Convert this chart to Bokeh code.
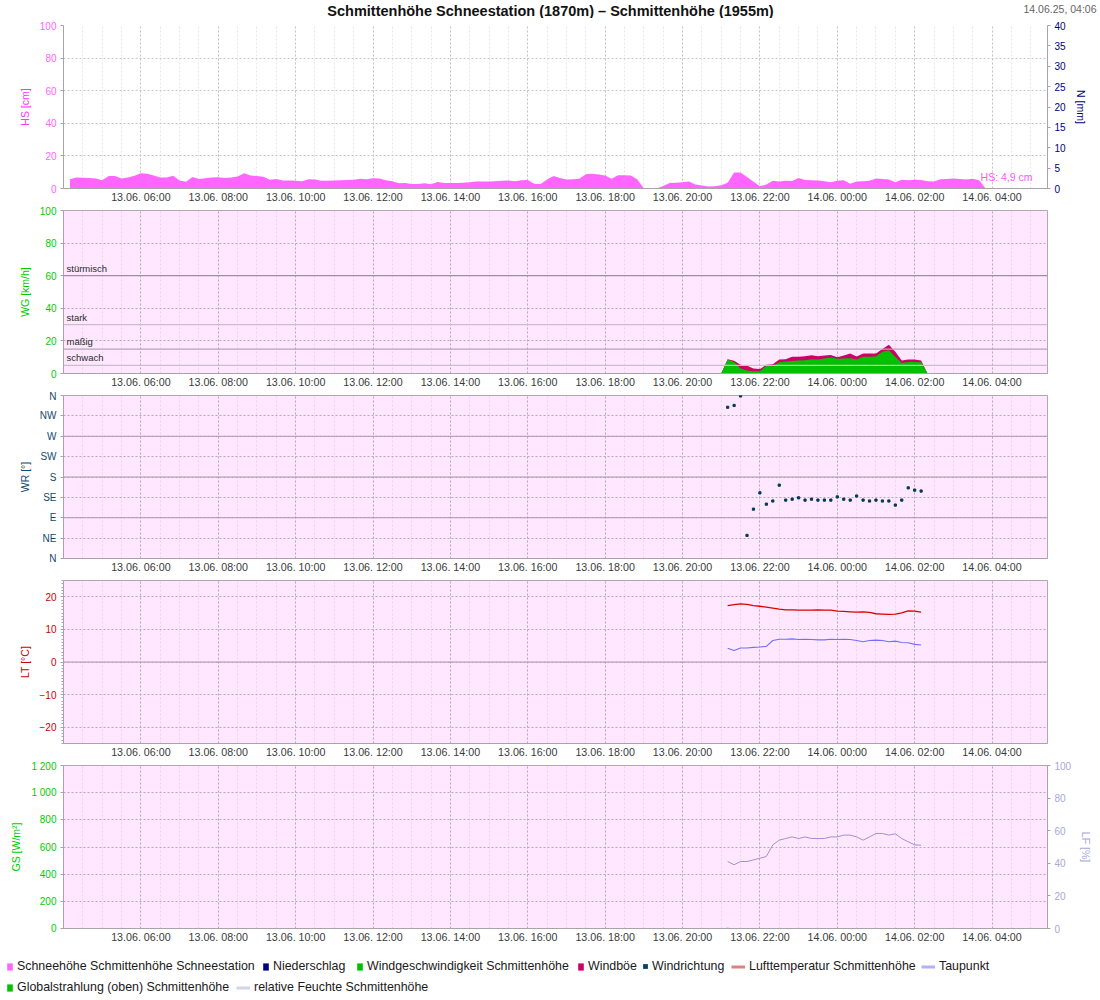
import pandas as pd
from bokeh.plotting import figure
from bokeh.layouts import column
from bokeh.models import (Range1d, LinearAxis, FixedTicker, DatetimeTickFormatter,
                          Span, Label, Legend, LegendItem)
from bokeh.embed import file_html
from bokeh.resources import INLINE

FONT = "Liberation Sans"

# ---------------- texts ----------------
chart_title = "Schmittenhöhe Schneestation (1870m) – Schmittenhöhe (1955m)"
timestamp_text = "14.06.25, 04:06"
hs_current = "HS: 4,9 cm"

# ---------------- time axis ----------------
view_start = "2025-06-13 04:00"
view_end = "2025-06-14 05:26"
major_tick_times = pd.date_range("2025-06-13 06:00", "2025-06-14 04:00", freq="2h")
minor_tick_times = pd.date_range("2025-06-13 04:00", "2025-06-14 05:30", freq="30min")

# ---------------- data (10-minute values) ----------------
snow_start = "2025-06-13 04:10"
snow_cm = [
    5.7, 6.7, 6.6, 6.4, 6.2,
    5.1, 7.6, 7.6, 6.1, 6.8, 7.8,
    9.4, 9.0, 7.9, 6.7, 6.7, 7.8,
    4.9, 4.2, 7.0, 5.9, 6.3, 6.8,
    6.9, 6.5, 6.8, 7.4, 9.3, 8.0,
    7.6, 7.2, 5.3, 5.8, 4.9, 4.9,
    4.8, 4.5, 5.7, 5.5, 4.7, 4.8,
    4.9, 5.0, 5.2, 5.3, 6.0, 5.7,
    6.3, 6.1, 5.0, 4.4, 3.2, 3.3,
    2.7, 2.8, 3.2, 2.6, 4.0, 3.3,
    3.3, 3.4, 3.5, 3.9, 4.3, 4.3,
    4.3, 4.5, 4.7, 4.9, 4.5, 5.1,
    5.2, 2.9, 2.7, 5.5, 7.6, 6.5,
    5.5, 5.6, 6.0, 8.8, 9.0, 8.6,
    8.0, 6.0, 8.2, 8.1, 8.0, 5.5,
    0.0, 0.0, 0.0, 1.5, 3.3, 3.6,
    3.8, 4.3, 2.5, 1.9, 1.3, 1.4,
    2.0, 3.6, 9.8, 9.8, 7.0, 4.1,
    1.4, 2.5, 4.7, 4.3, 4.7, 4.6,
    6.5, 5.2, 5.1, 4.9, 4.4, 3.9,
    4.7, 5.0, 2.9, 4.3, 4.4, 4.8,
    6.1, 5.9, 5.5, 3.9, 5.3, 5.1,
    5.4, 5.2, 4.4, 4.3, 5.6, 5.8,
    6.1, 5.9, 5.5, 6.0, 5.1, 0.0,
]

wind_start = "2025-06-13 21:00"
wind_kmh = [0.0, 8.6, 7.1, 3.1, 1.8, 1.4, 1.4, 4.7, 4.5, 6.9, 7.3, 7.6, 7.9, 8.2, 8.8, 8.6, 9.2,
            9.8, 9.0, 9.2, 9.4, 8.6, 10.2, 10.3, 10.4, 13.3, 14.3, 10.2, 6.5, 7.1, 7.0, 6.9, 0.0]
gust_kmh = [0.0, 8.8, 7.8, 5.3, 4.7, 3.1, 2.7, 5.3, 5.7, 8.6, 8.8, 10.2, 10.2, 10.6, 11.2, 10.6, 11.0,
            11.4, 10.0, 11.0, 12.2, 10.4, 12.2, 12.2, 12.2, 15.1, 17.6, 13.3, 8.0, 8.6, 8.6, 8.0, 0.0]

meas_start = "2025-06-13 21:10"
wind_dir_deg = [334, 338, 359, 51, 109, 145, 120, 127, 162, 129, 131, 134, 129, 131, 129, 129,
                129, 136, 131, 129, 138, 129, 127, 129, 127, 127, 118, 129, 156, 151, 149]
air_temp_c = [17.3, 17.6, 17.8, 17.7, 17.3, 17.1, 16.8, 16.5, 16.2, 16.0, 16.0, 15.9, 15.9, 15.9,
              16.0, 15.9, 15.9, 15.6, 15.5, 15.4, 15.3, 15.4, 15.2, 14.8, 14.7, 14.6, 14.7, 15.1,
              15.7, 15.6, 15.3]
dew_point_c = [4.2, 3.5, 4.3, 4.3, 4.5, 4.6, 4.8, 6.6, 7.0, 7.0, 7.1, 6.9, 7.0, 6.9, 6.8, 6.8,
               7.0, 6.9, 7.0, 6.9, 6.6, 6.2, 6.6, 6.7, 6.6, 6.2, 6.4, 6.0, 5.9, 5.4, 5.2]
rel_hum_pct = [41.1, 39.1, 41.1, 41.1, 42.1, 43.1, 44.2, 51.3, 54.2, 55.2, 56.2, 55.2, 56.2, 55.2,
               55.2, 55.2, 56.2, 56.2, 57.3, 57.3, 56.2, 54.2, 56.2, 58.3, 58.3, 57.3, 58.1, 55.2,
               53.2, 51.3, 51.1]

rad_start = "2025-06-13 21:00"
global_rad_wm2 = [0, 6, 0]

# ---------------- axis ticks / labels ----------------
hs_ticks = [0, 20, 40, 60, 80, 100]
n_ticks = [0, 5, 10, 15, 20, 25, 30, 35, 40]
wg_ticks = [0, 20, 40, 60, 80, 100]
wind_levels = [60, 30, 15, 5]
wind_level_names = ["stürmisch", "stark", "mäßig", "schwach"]
wind_level_colors = ["#9a8f9a", "#cdbccd", "#b3a6b3", "#cdbccd"]
wr_ticks = [0, 45, 90, 135, 180, 225, 270, 315, 360]
wr_labels = ["N", "NE", "E", "SE", "S", "SW", "W", "NW", "N"]
wr_solid = [90, 180, 270]
lt_ticks = [-20, -10, 0, 10, 20]
lt_minor = list(range(-25, 26))
gs_ticks = [0, 200, 400, 600, 800, 1000, 1200]
gs_labels = ["0", "200", "400", "600", "800", "1 000", "1 200"]
lf_ticks = [0, 20, 40, 60, 80, 100]

legend_names = ["Schneehöhe Schmittenhöhe Schneestation", "Niederschlag",
                "Windgeschwindigkeit Schmittenhöhe", "Windböe", "Windrichtung",
                "Lufttemperatur Schmittenhöhe", "Taupunkt",
                "Globalstrahlung (oben) Schmittenhöhe", "relative Feuchte Schmittenhöhe"]
legend_colors = ["#ff66ff", "#000080", "#00c000", "#cc0066", "#004466",
                 "#e08080", "#b0b0ff", "#00c000", "#d4d4ea"]
legend_kinds = ["area", "area", "area", "area", "dot", "line", "line", "area", "line"]

# ---------------- helpers ----------------
def ms(s):
    return pd.Timestamp(s).timestamp() * 1000.0


def series_times(start, n):
    return pd.date_range(start, periods=n, freq="10min")


X0, X1 = ms(view_start), ms(view_end)
xr = Range1d(X0, X1)
PINK = "#ffe8ff"
TICK_FMT = "%d.%m. %H:%M"
AXIS_GREY = "#aaa2aa"


def style_yaxis(ax, ticks, color, label, minor=None, overrides=None):
    ax.ticker = FixedTicker(ticks=ticks, minor_ticks=minor or [])
    ax.axis_label = label
    ax.axis_label_text_color = color
    ax.axis_label_text_font = FONT
    ax.axis_label_text_font_size = "10.5px"
    ax.axis_label_text_font_style = "normal"
    ax.axis_label_standoff = 6
    ax.major_label_text_color = color
    ax.major_label_text_font = FONT
    ax.major_label_text_font_size = "10px"
    ax.major_label_standoff = 4
    ax.major_tick_in = 0
    ax.major_tick_out = 3
    ax.minor_tick_in = 0
    ax.minor_tick_out = 2 if minor else 0
    ax.axis_line_color = AXIS_GREY
    ax.major_tick_line_color = AXIS_GREY
    ax.minor_tick_line_color = AXIS_GREY
    if overrides:
        ax.major_label_overrides = overrides


def make_fig(y0, y1, bg, top, grid_major, grid_minor, outline):
    p = figure(x_range=xr, y_range=Range1d(y0, y1), x_axis_type="datetime",
               frame_width=984, frame_height=163,
               min_border_left=63, min_border_right=45,
               min_border_top=top, min_border_bottom=17,
               background_fill_color=bg, border_fill_color="white",
               output_backend="svg", toolbar_location=None)
    p.outline_line_color = outline
    xa = p.xaxis[0]
    xa.ticker = FixedTicker(ticks=[ms(t) for t in major_tick_times],
                            minor_ticks=[ms(t) for t in minor_tick_times])
    fmt = {k: TICK_FMT for k in ["microseconds", "milliseconds", "seconds", "minsec",
                                  "minutes", "hourmin", "hours", "days", "months", "years"]}
    xa.formatter = DatetimeTickFormatter(**fmt)
    xa.major_label_text_font = FONT
    xa.major_label_text_font_size = "10.7px"
    xa.major_label_text_color = "#3a3a3a"
    xa.major_label_standoff = 2
    xa.major_tick_in = 0
    xa.major_tick_out = 0
    xa.minor_tick_in = 0
    xa.minor_tick_out = 0
    xa.axis_line_color = AXIS_GREY
    xa.major_tick_line_color = AXIS_GREY
    p.xgrid.grid_line_color = grid_major
    p.xgrid.grid_line_dash = "2 2"
    p.xgrid.minor_grid_line_color = grid_minor
    p.xgrid.minor_grid_line_dash = "2 2"
    p.ygrid.grid_line_color = grid_major
    p.ygrid.grid_line_dash = "2 2"
    return p


# ---------------- header strip: title + timestamp ----------------
ph = figure(x_range=Range1d(0, 1100), y_range=Range1d(0, 18), frame_width=1100, frame_height=18,
            min_border=0, x_axis_location=None, y_axis_location=None,
            output_backend="svg", toolbar_location=None, frame_align=False)
ph.outline_line_color = None
ph.grid.visible = False
ph.add_layout(Label(x=550, y=7.5, text=chart_title, text_align="center", text_baseline="middle",
                    text_color="#111111", text_font=FONT, text_font_size="14.5px",
                    text_font_style="bold"))
ph.add_layout(Label(x=1096, y=9.5, text=timestamp_text, text_align="right",
                    text_baseline="middle", text_color="#666666", text_font=FONT,
                    text_font_size="10.5px"))

# ---------------- panel 1: snow height ----------------
p1 = make_fig(0, 100, "white", 7, "#c4c4c4", "#e6e6e6", None)
p1.extra_y_ranges = {"n": Range1d(0, 40)}
style_yaxis(p1.yaxis[0], hs_ticks, "#ff66ff", "HS [cm]")
p1.yaxis[0].axis_label_text_color = "#ff33ff"
n_axis = LinearAxis(y_range_name="n")
style_yaxis(n_axis, n_ticks, "#000080", "N [mm]")
p1.add_layout(n_axis, "right")
p1.varea(x=series_times(snow_start, len(snow_cm)), y1=0, y2=snow_cm,
         fill_color="#ff66ff", fill_alpha=1.0)
p1.add_layout(Label(x=X1, y=0, x_offset=-15, y_offset=11.6, text=hs_current,
                    text_align="right", text_baseline="middle", text_color="#ff55ff",
                    text_font=FONT, text_font_size="10.5px"))

# ---------------- panel 2: wind speed ----------------
PG_MAJ, PG_MIN, PG_OUT = "#b9a9b9", "#ead4ea", "#b0a8b0"
p2 = make_fig(0, 100, PINK, 5, PG_MAJ, PG_MIN, PG_OUT)
style_yaxis(p2.yaxis[0], wg_ticks, "#00cc00", "WG [km/h]")
for lvl, name, col in zip(wind_levels, wind_level_names, wind_level_colors):
    p2.add_layout(Span(location=lvl, dimension="width", line_color=col, line_width=1.2))
    p2.add_layout(Label(x=X0, y=lvl, x_offset=3, y_offset=2, text=name,
                        text_align="left", text_baseline="bottom", text_color="#2a2a2a",
                        text_font=FONT, text_font_size="9.5px"))
wt = series_times(wind_start, len(wind_kmh))
p2.varea(x=wt, y1=0, y2=gust_kmh, fill_color="#cc0066")
p2.varea(x=wt, y1=0, y2=wind_kmh, fill_color="#00c000")

# ---------------- panel 3: wind direction ----------------
p3 = make_fig(0, 360, PINK, 5, PG_MAJ, PG_MIN, PG_OUT)
style_yaxis(p3.yaxis[0], wr_ticks, "#154a6a", "WR [°]",
            overrides={t: l for t, l in zip(wr_ticks, wr_labels)})
for lvl in wr_solid:
    p3.add_layout(Span(location=lvl, dimension="width", line_color="#a89ca8", line_width=1))
mt = series_times(meas_start, len(wind_dir_deg))
p3.scatter(x=mt, y=wind_dir_deg, marker="square", size=2.2, color="#003a55")

# ---------------- panel 4: temperature ----------------
p4 = make_fig(-25, 25, PINK, 5, PG_MAJ, PG_MIN, PG_OUT)
style_yaxis(p4.yaxis[0], lt_ticks, "#cc0000", "LT [°C]", minor=lt_minor)
p4.add_layout(Span(location=0, dimension="width", line_color="#a89ca8", line_width=1))
p4.line(x=mt, y=air_temp_c, line_color="#dd0000", line_width=1.3)
p4.line(x=mt, y=dew_point_c, line_color="#6f6fff", line_width=1.1)

# ---------------- panel 5: radiation / humidity ----------------
p5 = make_fig(0, 1200, PINK, 5, PG_MAJ, PG_MIN, PG_OUT)
style_yaxis(p5.yaxis[0], gs_ticks, "#00cc00", "GS [W/m²]",
            overrides={t: l for t, l in zip(gs_ticks, gs_labels)})
p5.extra_y_ranges = {"lf": Range1d(0, 100)}
lf_axis = LinearAxis(y_range_name="lf")
style_yaxis(lf_axis, lf_ticks, "#a8a8d8", "LF [%]")
p5.add_layout(lf_axis, "right")
p5.varea(x=series_times(rad_start, len(global_rad_wm2)), y1=0, y2=global_rad_wm2,
         fill_color="#00c000")
p5.line(x=mt, y=rel_hum_pct, y_range_name="lf", line_color="#9d90d4", line_width=1)

# ---------------- legend strip ----------------
pl = figure(x_range=Range1d(0, 1), y_range=Range1d(0, 1), frame_width=1092, frame_height=56,
            min_border=0, x_axis_location=None, y_axis_location=None,
            output_backend="svg", toolbar_location=None, frame_align=False)
pl.outline_line_color = None
pl.grid.visible = False

leg_pos = [(6, 28), (262, 28), (356, 28), (577, 28), (642, 28), (731, 28), (921, 28),
           (6, 7), (236, 7)]
for name, col, kind, (lx, ly) in zip(legend_names, legend_colors, legend_kinds, leg_pos):
    if kind == "area":
        r = pl.varea(x=[2, 3], y1=[0, 0], y2=[1, 1], fill_color=col)
        gw, gh = 7, 9
    elif kind == "dot":
        r = pl.varea(x=[2, 3], y1=[0, 0], y2=[1, 1], fill_color=col)
        gw, gh = 6, 6
    else:
        r = pl.line(x=[2, 3], y=[0, 0], line_color=col, line_width=3)
        gw, gh = 14, 9
    lg = Legend(items=[LegendItem(label=name, renderers=[r])], location=(lx, ly),
                orientation="horizontal", glyph_width=gw, glyph_height=gh,
                label_standoff=4, padding=0, margin=0, spacing=0,
                border_line_color=None, background_fill_alpha=0,
                label_text_font=FONT, label_text_font_size="12.4px",
                label_text_color="#1a1a1a", label_height=gh)
    pl.add_layout(lg)

layout = column(ph, p1, p2, p3, p4, p5, pl, spacing=0)
open("out.html", "w").write(file_html(layout, INLINE))
